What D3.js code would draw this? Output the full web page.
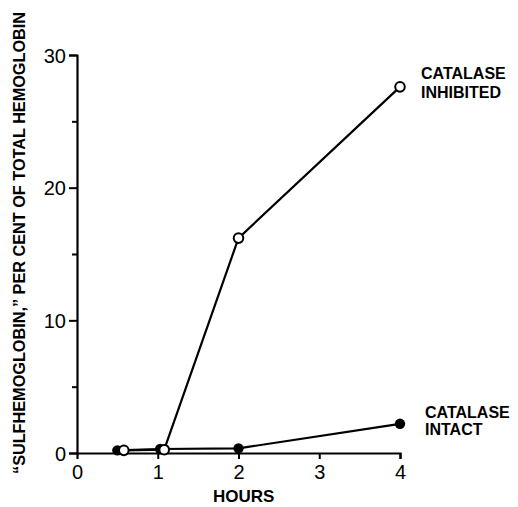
<!DOCTYPE html>
<html><head><meta charset="utf-8">
<script src="https://cdn.jsdelivr.net/npm/d3@7/dist/d3.min.js"></script>
<style>body{margin:0;background:#fff}</style>
</head><body>
<svg id="c" width="518" height="507"></svg>
<script>
const inhibitedHours = [0.58, 1.08, 2, 4];
const inhibitedValues = [0.2, 0.25, 16.2, 27.6];
const intactHours = [0.5, 1.03, 2, 4];
const intactValues = [0.2, 0.3, 0.35, 2.2];
const xTicks = [0, 1, 2, 3, 4];
const yTicks = [0, 10, 20, 30];
const yMinorTicks = [5, 15, 25];

const svg = d3.select("#c");
const x = d3.scaleLinear().domain([0, 4]).range([77, 400]);
const y = d3.scaleLinear().domain([0, 30]).range([453, 55]);
const font = "'Liberation Sans', Arial, sans-serif";

const yAxis = svg.append("g").attr("transform", "translate(77,0)")
  .call(d3.axisLeft(y).tickValues(yTicks).tickSize(8).tickPadding(3).tickFormat(d3.format("d")));
svg.append("g").attr("transform", "translate(77,0)")
  .call(d3.axisLeft(y).tickValues(yMinorTicks).tickSize(5).tickFormat(""))
  .select(".domain").remove();
const xAxis = svg.append("g").attr("transform", "translate(0,453)")
  .call(d3.axisBottom(x).tickValues(xTicks).tickSize(6).tickPadding(6).tickFormat(d3.format("d")));
xAxis.selectAll(".tick").filter(d => d === 0).select("line").remove();
svg.selectAll(".domain").attr("stroke", "#000").attr("stroke-width", 2.2);
svg.selectAll(".tick line").attr("stroke", "#000").attr("stroke-width", 2);
svg.selectAll(".tick text").attr("font-family", font).attr("font-size", 20).attr("fill", "#000");
yAxis.selectAll(".tick text").attr("dy", "0.35em");

const line = d3.line().x(d => x(d[0])).y(d => y(d[1]));
const intact = intactHours.map((h, i) => [h, intactValues[i]]);
const inhibited = inhibitedHours.map((h, i) => [h, inhibitedValues[i]]);

svg.append("path").datum(intact).attr("d", line).attr("fill", "none").attr("stroke", "#000").attr("stroke-width", 2.2);
svg.append("path").datum(inhibited).attr("d", line).attr("fill", "none").attr("stroke", "#000").attr("stroke-width", 2.2);
svg.selectAll(".fpt").data(intact).enter().append("circle")
  .attr("cx", d => x(d[0])).attr("cy", d => y(d[1])).attr("r", 5.2).attr("fill", "#000");
svg.selectAll(".opt").data(inhibited).enter().append("circle")
  .attr("cx", d => x(d[0])).attr("cy", d => y(d[1])).attr("r", 4.8)
  .attr("fill", "#fff").attr("stroke", "#000").attr("stroke-width", 2);

const lab = (t, xx, yy, fs) => svg.append("text").attr("x", xx).attr("y", yy)
  .attr("font-family", font).attr("font-weight", "bold").attr("font-size", fs).attr("fill", "#000").text(t);
lab("CATALASE", 421, 79, 16);
lab("INHIBITED", 421, 98, 16);
lab("CATALASE", 425, 418, 16);
lab("INTACT", 425, 435, 16);
lab("HOURS", 213, 502, 17);

svg.append("text").attr("transform", "translate(25,243) rotate(-90)")
  .attr("text-anchor", "middle").attr("font-family", font).attr("font-weight", "bold")
  .attr("font-size", 16).attr("textLength", 462).attr("lengthAdjust", "spacingAndGlyphs")
  .text("\u201CSULFHEMOGLOBIN,\u201D PER CENT OF TOTAL HEMOGLOBIN");
</script>
</body></html>
